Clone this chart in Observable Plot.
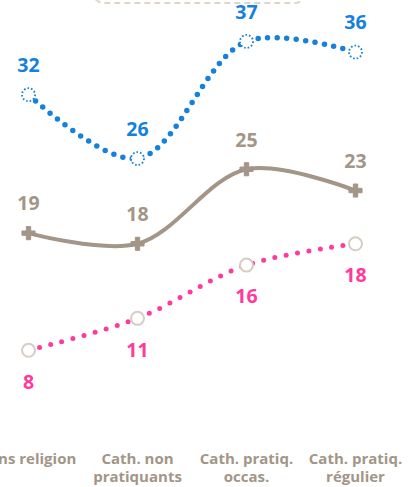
<!DOCTYPE html>
<html>
<head>
<meta charset="utf-8">
<script src="https://cdn.jsdelivr.net/npm/d3@7"></script>
<script src="https://cdn.jsdelivr.net/npm/@observablehq/plot@0.6"></script>
<style>
  html, body { margin: 0; padding: 0; background: #fff; overflow: hidden; }
  #wrap { position: relative; width: 409px; height: 487px; }
  #legendbox { position: absolute; left: 92px; top: -40px; width: 211px; height: 40px;
    border: 2px dashed #ddd5cb; border-radius: 12px; }
  #chart { position: absolute; left: 0; top: 0; }
</style>
</head>
<body>
<div id="wrap">
  <div id="legendbox"></div>
  <div id="chart"></div>
</div>
<script>
const categories = ["Sans religion", "Cath. non\npratiquants", "Cath. pratiq.\noccas.", "Cath. pratiq.\nrégulier"];
const seriesBlue = [32, 26, 37, 36];
const seriesGray = [19, 18, 25, 23];
const seriesPink = [8, 11, 16, 18];

const blue = "#1681dd";
const gray = "#a39587";
const pink = "#ff3a9b";

const mk = (vals) => categories.map((c, i) => ({cat: c, v: vals[i]}));
const dBlue = mk(seriesBlue), dGray = mk(seriesGray), dPink = mk(seriesPink);

const plot = Plot.plot({
  width: 409,
  height: 487,
  marginLeft: 28,
  marginRight: 54,
  marginTop: 9,
  marginBottom: 52,
  style: {fontFamily: "'Open Sans', sans-serif", background: "transparent", overflow: "visible"},
  x: {type: "point", domain: categories, padding: 0, label: null},
  y: {domain: [0, 40], axis: null},
  marks: [
    Plot.axisX({tickSize: 0, tickPadding: 16, fontSize: 15, fontWeight: "bold", color: gray, lineHeight: 1.2, label: null}),
    Plot.line(dGray, {x: "cat", y: "v", curve: "catmull-rom", stroke: gray, strokeWidth: 4}),
    Plot.line(dBlue, {x: "cat", y: "v", curve: "catmull-rom", stroke: blue, strokeWidth: 5.5, strokeDasharray: "0 9.5", strokeLinecap: "round"}),
    Plot.line(dPink, {x: "cat", y: "v", curve: "catmull-rom", stroke: pink, strokeWidth: 5, strokeDasharray: "0 11.5", strokeLinecap: "round"}),
    Plot.dot(dBlue, {x: "cat", y: "v", r: 6.5, fill: "white", stroke: blue, strokeWidth: 1.8, strokeDasharray: "1.6 2"}),
    Plot.dot(dGray, {x: "cat", y: "v", symbol: "cross", r: 5.5, fill: gray, stroke: gray, strokeWidth: 1}),
    Plot.dot(dPink, {x: "cat", y: "v", r: 6.5, fill: "white", stroke: "#d6cdc3", strokeWidth: 2}),
    Plot.text(dBlue, {x: "cat", y: "v", text: "v", dy: -29, fill: blue, fontSize: 19.5, fontWeight: "bold"}),
    Plot.text(dGray, {x: "cat", y: "v", text: "v", dy: -29, fill: gray, fontSize: 19.5, fontWeight: "bold"}),
    Plot.text(dPink, {x: "cat", y: "v", text: "v", dy: 32, fill: pink, fontSize: 19.5, fontWeight: "bold"})
  ]
});
document.getElementById("chart").appendChild(plot);
</script>
</body>
</html>
